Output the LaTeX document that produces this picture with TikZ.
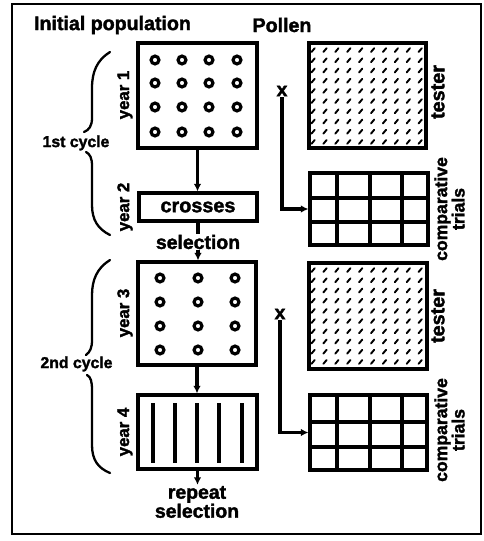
\documentclass[tikz,border=0pt]{standalone}
\usepackage{fontspec}
\setmainfont{Liberation Sans}[BoldFeatures={FakeBold=1.8}]
\usetikzlibrary{arrows.meta}
\begin{document}
\begin{tikzpicture}[x=1pt,y=-1pt,
  boxst/.style={draw, line width=3.2pt, inner sep=0pt},
  hdr/.style={font=\bfseries\fontsize{19.6}{19.6}\selectfont, inner sep=1pt},
  lab/.style={font=\bfseries\fontsize{19.4}{19}\selectfont, inner sep=1pt},
  ylab/.style={font=\bfseries\fontsize{16.8}{16.8}\selectfont, rotate=90, inner sep=0pt},
  clab/.style={font=\bfseries\fontsize{15.8}{15.8}\selectfont, inner sep=1pt},
  rlab/.style={font=\bfseries\fontsize{17.6}{15}\selectfont, rotate=90, inner sep=0pt, align=center},
  tlab/.style={font=\bfseries\fontsize{19.8}{19.8}\selectfont, rotate=90, inner sep=0pt},
  conn/.style={line width=3.1pt, -{Latex[length=7.5pt,width=7.5pt]}},
  ring/.style={line width=3.2pt},
  hatch/.style={line width=1.9pt, line cap=round},
  gridl/.style={line width=3.2pt},
  brace/.style={line width=2.3pt, line cap=round},
]
\useasboundingbox (0,0) rectangle (484,541);
\node[draw, line width=2.8pt, minimum width=469pt, minimum height=530pt, inner sep=0pt] (frame) at (246.5,269) {};

% headers
\node[hdr] (hinit) at (112.5,25) {Initial population};
\node[hdr] (hpol) at (282,25) {Pollen};

% year 1
\node[boxst, minimum width=119pt, minimum height=105pt] (y1) at (197.5,95.5) {};
\foreach \cx in {155,182,209,237} \foreach \cy in {60,83,107,132}
  \draw[ring] (\cx,\cy) circle[radius=3.9pt];
\node[ylab] (ly1) at (125,95) {year 1};

% year 2 crosses
\node[boxst, minimum width=118pt, minimum height=28pt, font=\bfseries\fontsize{19.8}{19.8}\selectfont] (cr) at (198,207) {crosses};
\node[ylab] (ly2) at (125,207) {year 2};
\draw[conn] (y1.south) -- (y1.south |- cr.north);

% year 3
\node[boxst, minimum width=118pt, minimum height=103pt] (y3) at (197,313.5) {};
\foreach \cx in {160,198,235} \foreach \cy in {278,302,326,350}
  \draw[ring] (\cx,\cy) circle[radius=3.9pt];
\node[ylab] (ly3) at (125,313) {year 3};
\draw[conn] (cr.south) -- (cr.south |- y3.north);
\node[lab, fill=white] (sel) at (198,242) {selection};

% year 4
\node[boxst, minimum width=119pt, minimum height=74pt] (y4) at (197.5,432) {};
\foreach \cx in {153,175,197,219,242}
  \draw[line width=3.2pt] (\cx,403) -- (\cx,463);
\node[ylab] (ly4) at (125,432) {year 4};
\draw[conn] (y3.south) -- (y3.south |- y4.north);
\node[lab, align=center] (rep) at (197,502) {repeat\\selection};
\draw[conn] (y4.south) -- (y4.south |- rep.north);

% cycles
\node[clab] (c1) at (76,143) {1st cycle};
\node[clab] (c2) at (76.5,364) {2nd cycle};
\draw[brace] (110,52) .. controls (97,60) and (92,72) .. (92,88) -- (92,118) .. controls (92,126) and (89,130) .. (84,132);
\draw[brace] (86,152) .. controls (90,154) and (92,158) .. (92,166) -- (92,205) .. controls (92,220) and (98,229) .. (110,235);
\draw[brace] (110,260) .. controls (97,268) and (92,280) .. (92,295) -- (92,340) .. controls (92,348) and (90,352) .. (86,355);
\draw[brace] (87,375) .. controls (91,377) and (92,382) .. (92,390) -- (92,445) .. controls (92,460) and (98,468) .. (110,473);

% tester 1
\node[boxst, minimum width=117pt, minimum height=105pt] (t1) at (367.5,95.5) {};
\foreach \i in {0,...,9} \foreach \j in {0,...,9}
  \draw[hatch] ({311.5+\i*11.9},{52+\j*10.2}) -- ++(3.2,-3.8);
\node[tlab] (lt1) at (438,92) {tester};

% grid 1
\node[boxst, minimum width=118pt, minimum height=72pt] (g1) at (369,209) {};
\foreach \gx in {337,370,402} \draw[gridl] (\gx,173) -- (\gx,245);
\foreach \gy in {198,222} \draw[gridl] (310,\gy) -- (428,\gy);
\node[rlab] (lg1) at (449.5,209) {comparative\\trials};

\node[hdr] (x1) at (282,91) {x};
\draw[conn] (x1.south) |- (g1.west);

% tester 2
\node[boxst, minimum width=118pt, minimum height=106pt] (t2) at (368,316) {};
\foreach \i in {0,...,9} \foreach \j in {0,...,9}
  \draw[hatch] ({311.5+\i*11.9},{272+\j*10.2}) -- ++(3.2,-3.8);
\node[tlab] (lt2) at (438,316) {tester};

% grid 2
\node[boxst, minimum width=117pt, minimum height=75pt] (g2) at (368.5,432.5) {};
\foreach \gx in {337,370,402} \draw[gridl] (\gx,395) -- (\gx,470);
\foreach \gy in {422,447} \draw[gridl] (310,\gy) -- (427,\gy);
\node[rlab] (lg2) at (449.5,430) {comparative\\trials};

\node[hdr] (x2) at (280,314) {x};
\draw[conn] (x2.south) |- (g2.west);
\end{tikzpicture}
\end{document}
